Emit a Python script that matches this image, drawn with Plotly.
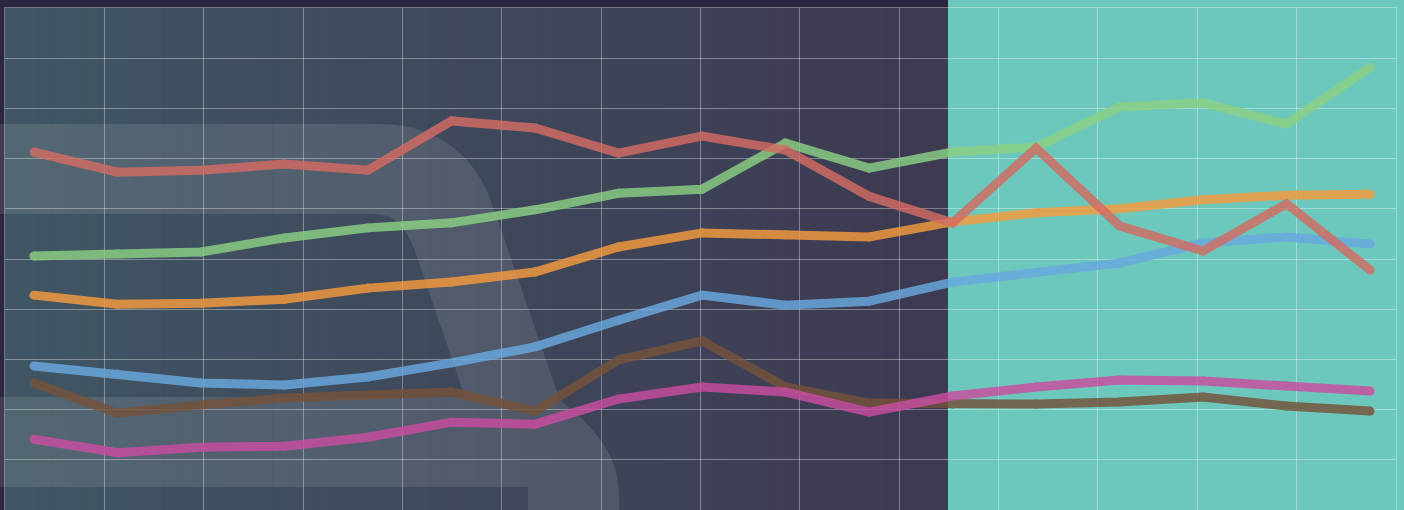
import plotly.graph_objects as go

# ---- data (17 periods) ----
periods = list(range(17))
red     = [71.3, 67.3, 67.7, 68.9, 67.7, 77.5, 76.1, 71.1, 74.5, 71.7, 62.5, 57.2, 72.1, 56.6, 51.6, 61.0, 47.8]
green   = [50.6, 51.0, 51.4, 54.2, 56.2, 57.2, 59.8, 63.1, 63.9, 73.1, 68.1, 71.3, 72.3, 80.3, 81.1, 76.9, 88.2]
orange  = [42.8, 41.0, 41.2, 42.0, 44.2, 45.4, 47.4, 52.4, 55.2, 54.8, 54.4, 57.4, 59.2, 60.0, 61.8, 62.7, 62.9]
blue    = [28.7, 27.1, 25.3, 24.9, 26.5, 29.3, 32.5, 37.8, 42.8, 40.8, 41.6, 45.4, 47.2, 49.2, 53.2, 54.4, 53.0]
brown   = [25.3, 19.3, 20.9, 22.3, 22.9, 23.5, 19.7, 29.9, 33.7, 24.5, 21.3, 21.1, 21.1, 21.5, 22.5, 20.7, 19.7]
magenta = [14.1, 11.4, 12.5, 12.7, 14.5, 17.5, 17.1, 22.1, 24.5, 23.5, 19.5, 22.7, 24.5, 25.9, 25.7, 24.7, 23.7]

series = [
    ("brown", brown, "#75523a"),
    ("magenta", magenta, "#ca4da1"),
    ("blue", blue, "#69a9e0"),
    ("orange", orange, "#f69b3d"),
    ("green", green, "#8bd084"),
    ("red", red, "#d46c63"),
]

W, H = 1404, 510
L, R, T, B = 5, 8, 8, 0
pw, ph = W - L - R, H - T - B

def X(px):
    return (px - L) / pw

def Y(py):
    return (H - B - py) / ph

LW = 9
fig = go.Figure()
for name, vals, col in series:
    fig.add_trace(go.Scatter(x=periods, y=vals, mode="lines+markers", name=name,
                             line=dict(color=col, width=LW),
                             marker=dict(color=col, size=LW, line=dict(width=0)),
                             opacity=0.82, hoverinfo="skip"))

shapes = []
# teal right panel (full height)
shapes.append(dict(type="rect", xref="paper", yref="paper", layer="below",
                   x0=X(948), x1=X(1420), y0=Y(530), y1=Y(-20),
                   fillcolor="#6cc8bc", line=dict(width=0)))
# horizontal gradient in the left panel
c0 = (64, 86, 100)
c1 = (61, 58, 82)
n = 60
x_start, x_end = 5, 948
for i in range(n):
    t = i / (n - 1)
    c = tuple(round(c0[k] + (c1[k] - c0[k]) * t) for k in range(3))
    a = x_start + (x_end - x_start) * i / n
    b = x_start + (x_end - x_start) * (i + 1) / n + 0.6
    shapes.append(dict(type="rect", xref="paper", yref="paper", layer="below",
                       x0=X(a), x1=X(min(b, x_end)), y0=Y(510), y1=Y(8),
                       fillcolor="rgb(%d,%d,%d)" % c, line=dict(width=0)))

# decorative light band
def P(px, py):
    return "%.5f,%.5f" % (X(px), Y(py))

path = ("M " + P(-20, 124) + " L " + P(380, 124) +
        " C " + P(440, 124) + " " + P(478, 160) + " " + P(492, 204) +
        " L " + P(560, 400) +
        " C " + P(592, 426) + " " + P(619, 452) + " " + P(619, 496) +
        " L " + P(619, 530) + " L " + P(528, 530) + " L " + P(528, 487) +
        " L " + P(-20, 487) + " L " + P(-20, 397) + " L " + P(465, 397) +
        " L " + P(414, 248) +
        " C " + P(404, 224) + " " + P(394, 214) + " " + P(372, 214) +
        " L " + P(-20, 214) + " Z")
shapes.append(dict(type="path", xref="paper", yref="paper", layer="below",
                   path=path, fillcolor="rgba(255,255,255,0.10)", line=dict(width=0)))

# x range so that points sit at px 34 + 83.5*i
x0v = (L - 34) / 83.5
x1v = (W - R - 34) / 83.5
grid_col = "rgba(255,255,255,0.35)"

fig.update_layout(
    width=W, height=H,
    margin=dict(l=L, r=R, t=T, b=B, pad=0),
    paper_bgcolor="#2a2742",
    plot_bgcolor="rgba(0,0,0,0)",
    showlegend=False,
    shapes=shapes,
    xaxis=dict(range=[x0v, x1v], tick0=x0v, dtick=(x1v - x0v) / 14,
               showgrid=True, gridcolor=grid_col, gridwidth=1,
               showticklabels=False, ticks="", zeroline=False,
               showline=True, mirror=True, linecolor=grid_col, linewidth=1),
    yaxis=dict(range=[0, 100], dtick=10,
               showgrid=True, gridcolor=grid_col, gridwidth=1,
               showticklabels=False, ticks="", zeroline=False,
               showline=True, mirror=True, linecolor=grid_col, linewidth=1),
)

fig.write_html(
    "out.html",
    config={"displayModeBar": False, "staticPlot": True},
    post_script="document.body.style.margin='0px';"
                "document.body.style.padding='0px';"
                "document.body.style.overflow='hidden';"
                "document.body.style.background='#2a2742';",
)
